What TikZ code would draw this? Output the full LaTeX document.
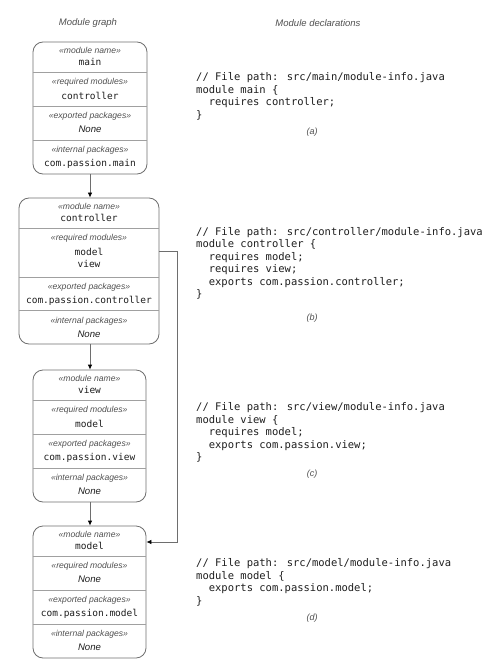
\documentclass[tikz,border=0pt]{standalone}
\usepackage{fontspec}
\setmainfont{Liberation Sans}
\newfontfamily\monof{DejaVu Sans Mono}
\usetikzlibrary{arrows.meta}
\definecolor{edgec}{HTML}{6E6E6E}
\definecolor{sepc}{HTML}{A0A0A0}
\definecolor{labc}{HTML}{505050}
\definecolor{inkc}{HTML}{1E1E1E}
\tikzset{
  modbox/.style={draw=edgec, line width=0.8pt, rounded corners=10pt, inner sep=0pt},
  seprule/.style={draw=sepc, line width=0.6pt},
  stereo/.style={font=\fontsize{8.6}{10}\selectfont\itshape, text=labc, inner sep=0pt},
  val/.style={font=\monof\fontsize{9.5}{12}\selectfont, text=inkc, inner sep=0pt},
  noneval/.style={font=\fontsize{9.6}{12}\selectfont\itshape, text=inkc, inner sep=0pt},
  code/.style={font=\monof\fontsize{10.5}{12.5}\selectfont, text=inkc, align=left, anchor=north west, inner sep=0pt},
  coltitle/.style={font=\fontsize{9.5}{11}\selectfont\itshape, text=labc, inner sep=0pt},
  caption/.style={font=\fontsize{9}{11}\selectfont\itshape, text=labc, inner sep=0pt},
  dep/.style={draw=edgec, line width=0.8pt, -{Latex[length=5pt,width=4.5pt,color=black]}}
}
\begin{document}
\begin{tikzpicture}[x=1pt,y=-1pt]
\useasboundingbox (0,0) rectangle (488,668);
% titles
\node[coltitle] (tgraph) at (88,23) {Module graph};
\node[coltitle] (tdecl) at (318,23) {Module declarations};

% ---------- main ----------
\node[modbox, minimum width=114pt, minimum height=132pt] (main) at (90,108) {};
\foreach \y in {72,106,140} \draw[seprule] (main.west |- 0,\y) -- (main.east |- 0,\y);
\node[stereo] (m1) at (90,50) {«module name»};
\node[val] (m1v) at (90,62) {main};
\node[stereo] (m2) at (90,82) {«required modules»};
\node[val] (m2v) at (90,95.5) {controller};
\node[stereo] (m3) at (90,116) {«exported packages»};
\node[noneval] (m3v) at (90,129.5) {None};
\node[stereo] (m4) at (90,150) {«internal packages»};
\node[val] (m4v) at (90,163.5) {com.passion.main};

% ---------- controller ----------
\node[modbox, minimum width=140pt, minimum height=146pt] (ctrl) at (89,271) {};
\foreach \y in {228,277,310} \draw[seprule] (ctrl.west |- 0,\y) -- (ctrl.east |- 0,\y);
\node[stereo] (c1) at (89,206) {«module name»};
\node[val] (c1v) at (89,218) {controller};
\node[stereo] (c2) at (89,238) {«required modules»};
\node[val] (cmodel) at (89,251.5) {model};
\node[val] (cview) at (89,264) {view};
\node[stereo] (c3) at (89,287) {«exported packages»};
\node[val] (c3v) at (89,300.5) {com.passion.controller};
\node[stereo] (c4) at (89,321) {«internal packages»};
\node[noneval] (c4v) at (89,334) {None};

% ---------- view ----------
\node[modbox, minimum width=113pt, minimum height=132pt] (view) at (89.5,436) {};
\foreach \y in {400,434,468} \draw[seprule] (view.west |- 0,\y) -- (view.east |- 0,\y);
\node[stereo] (v1) at (89.5,378) {«module name»};
\node[val] (v1v) at (89.5,390) {view};
\node[stereo] (v2) at (89.5,410) {«required modules»};
\node[val] (v2v) at (89.5,423.5) {model};
\node[stereo] (v3) at (89.5,444) {«exported packages»};
\node[val] (v3v) at (89.5,457.5) {com.passion.view};
\node[stereo] (v4) at (89.5,478) {«internal packages»};
\node[noneval] (v4v) at (89.5,491.5) {None};

% ---------- model ----------
\node[modbox, minimum width=113pt, minimum height=132pt] (model) at (89.5,592) {};
\foreach \y in {556,590,624} \draw[seprule] (model.west |- 0,\y) -- (model.east |- 0,\y);
\node[stereo] (d1) at (89.5,534) {«module name»};
\node[val] (mname) at (89.5,546) {model};
\node[stereo] (d2) at (89.5,566) {«required modules»};
\node[noneval] (d2v) at (89.5,579.5) {None};
\node[stereo] (d3) at (89.5,600) {«exported packages»};
\node[val] (d3v) at (89.5,613.5) {com.passion.model};
\node[stereo] (d4) at (89.5,634) {«internal packages»};
\node[noneval] (d4v) at (89.5,647.5) {None};

% ---------- connectors ----------
\draw[dep] (main.south) -- (main.south |- ctrl.north);
\draw[dep] (main.south |- ctrl.south) -- (main.south |- view.north);
\draw[dep] (main.south |- view.south) -- (main.south |- model.north);
\draw[dep] (cmodel -| ctrl.east) -- ++(18,0) |- ([yshift=4pt]mname.center -| model.east);

% ---------- declarations ----------
\node[code] (codea) at (196,72.5) {// File path: src/main/module-info.java\\
module main \{\\
\phantom{xx}requires controller;\\
\}};
\node[caption] (capa) at (312,132) {(a)};

\node[code] (codeb) at (196,227) {// File path: src/controller/module-info.java\\
module controller \{\\
\phantom{xx}requires model;\\
\phantom{xx}requires view;\\
\phantom{xx}exports com.passion.controller;\\
\}};
\node[caption] (capb) at (312,318) {(b)};

\node[code] (codec) at (196,402.5) {// File path: src/view/module-info.java\\
module view \{\\
\phantom{xx}requires model;\\
\phantom{xx}exports com.passion.view;\\
\}};
\node[caption] (capc) at (312,474) {(c)};

\node[code] (coded) at (196,558.5) {// File path: src/model/module-info.java\\
module model \{\\
\phantom{xx}exports com.passion.model;\\
\}};
\node[caption] (capd) at (312,618) {(d)};
\end{tikzpicture}
\end{document}
